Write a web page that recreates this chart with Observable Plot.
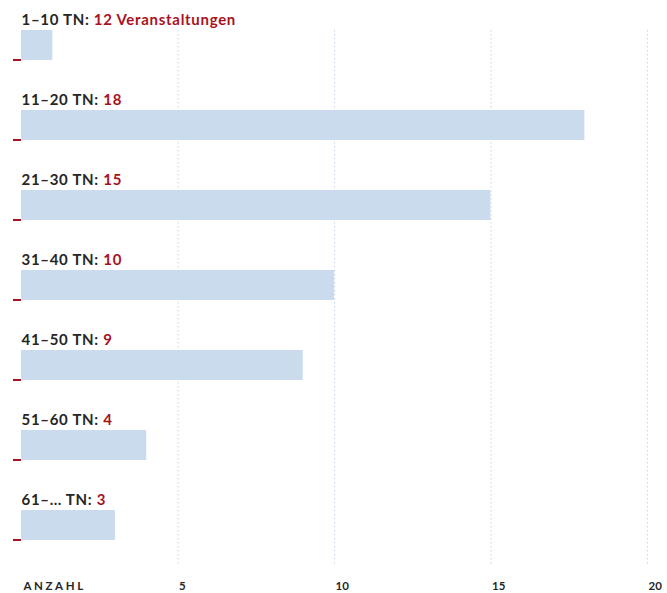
<!DOCTYPE html>
<html><head><meta charset="utf-8">
<script src="https://cdn.jsdelivr.net/npm/d3@7"></script>
<script src="https://cdn.jsdelivr.net/npm/@observablehq/plot@0.6"></script>
<style>body{margin:0;background:#fff;font-family:Lato,sans-serif}</style>
</head><body><div id="chart"></div>
<script>
const categories = ["1–10 TN", "11–20 TN", "21–30 TN", "31–40 TN", "41–50 TN", "51–60 TN", "61–… TN"];
const barValues = [1, 18, 15, 10, 9, 4, 3];
const valueLabels = ["12 Veranstaltungen", "18", "15", "10", "9", "4", "3"];
const xTicks = [5, 10, 15, 20];
const axisTitle = "ANZAHL";

const data = categories.map((c, i) => ({cat: c, value: barValues[i], label: valueLabels[i]}));
const red = "#a8121e", dark = "#262626";

const plot = Plot.plot({
  width: 667, height: 593,
  marginTop: 30, marginBottom: 28, marginLeft: 21, marginRight: 20,
  style: {fontFamily: "Lato, sans-serif", background: "#fff"},
  x: {domain: [0, 20], axis: null},
  y: {domain: categories, range: [30, 540], paddingInner: 0.625, paddingOuter: 0, align: 0, axis: null},
  marks: [
    Plot.ruleX(xTicks, {x: d => d, stroke: "#c3d4ea", strokeDasharray: "1.5,2.5", strokeWidth: 1}),
    Plot.barX(data, {y: "cat", x1: 0, x2: 0, insetLeft: -8, insetTop: 29, insetBottom: -1, fill: red}),
    Plot.barX(data, {y: "cat", x: "value", fill: "#cbdbee"}),
    Plot.text(data, {y: "cat", x: 0, text: d => d.cat + ": " + d.label, textAnchor: "start", lineAnchor: "bottom", dy: -20.5, fontSize: 15, fontWeight: "bold", fill: dark}),
    Plot.text(xTicks, {x: d => d, text: d => String(d), frameAnchor: "bottom", textAnchor: "start", lineAnchor: "bottom", dy: 24, dx: 1, fontSize: 11.5, fontWeight: "bold", fill: dark}),
    Plot.text([axisTitle], {x: 0, text: d => d, frameAnchor: "bottom", textAnchor: "start", lineAnchor: "bottom", dy: 24, dx: 2, fontSize: 11.5, fontWeight: "bold", fill: dark})
  ]
});
document.getElementById("chart").appendChild(plot);
// two-colour labels
d3.select(plot).selectAll("text").each(function(){
  const t = this.textContent;
  const idx = t.indexOf(": ");
  if (idx > 0) {
    const sel = d3.select(this);
    sel.text(null).style("letter-spacing", "0.7px");
    sel.append("tspan").attr("fill", dark).text(t.slice(0, idx + 2));
    sel.append("tspan").attr("fill", red).text(t.slice(idx + 2));
  }
});
d3.select(plot).selectAll("text").filter(function(){return this.textContent === axisTitle;}).style("letter-spacing", "2.6px");
</script></body></html>
